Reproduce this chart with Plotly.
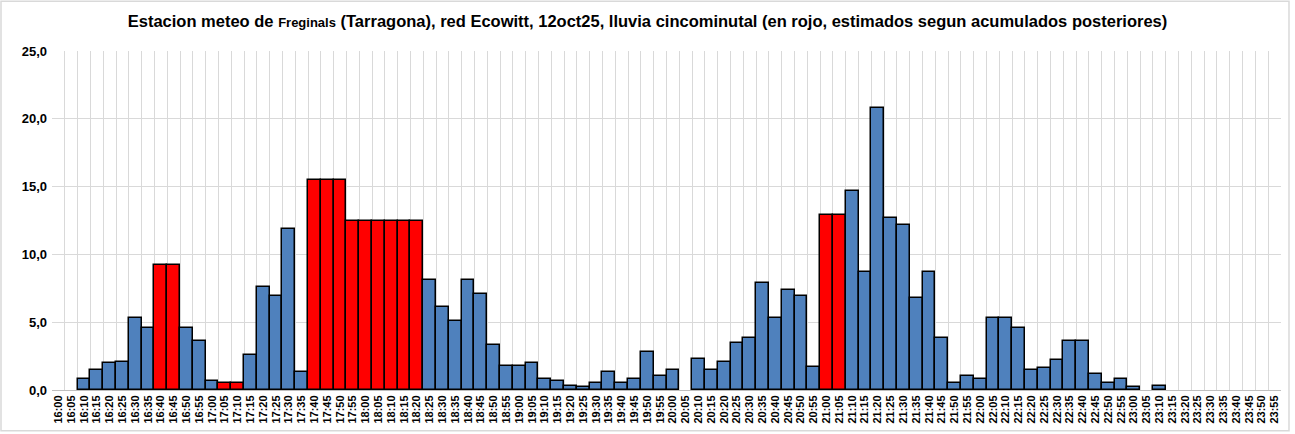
import plotly.graph_objects as go

times = [f"{h}:{m:02d}" for h in range(16, 24) for m in range(0, 60, 5)]

rain = [
    0, 0, 0.8, 1.5, 2.0, 2.1, 5.3, 4.6, 9.25, 9.25, 4.6, 3.6,          # 16:00-16:55
    0.7, 0.5, 0.5, 2.6, 7.6, 6.9, 11.9, 1.3, 15.5, 15.5, 15.5, 12.5,   # 17:00-17:55
    12.5, 12.5, 12.5, 12.5, 12.5, 8.1, 6.1, 5.1, 8.1, 7.1, 3.3, 1.8,   # 18:00-18:55
    1.8, 2.0, 0.8, 0.7, 0.3, 0.2, 0.5, 1.3, 0.5, 0.8, 2.8, 1.0,        # 19:00-19:55
    1.5, 0, 2.3, 1.5, 2.1, 3.5, 3.8, 7.9, 5.3, 7.4, 6.9, 1.7,          # 20:00-20:55
    12.9, 12.9, 14.7, 8.7, 20.8, 12.7, 12.2, 6.8, 8.7, 3.8, 0.5, 1.0,  # 21:00-21:55
    0.8, 5.3, 5.3, 4.6, 1.5, 1.6, 2.2, 3.6, 3.6, 1.2, 0.5, 0.8,        # 22:00-22:55
    0.2, 0, 0.3, 0, 0, 0, 0, 0, 0, 0, 0, 0,                            # 23:00-23:55
]

estimated = ["16:40", "16:45", "17:05", "17:10", "17:40", "17:45", "17:50", "17:55",
             "18:00", "18:05", "18:10", "18:15", "18:20", "21:00", "21:05"]

colors = ["#FF0000" if t in estimated else "#4F81BD" for t in times]
# zero-rain intervals draw no bar outline
yvals = [v if v > 0 else None for v in rain]

fig = go.Figure(go.Bar(
    x=times, y=yvals,
    marker=dict(color=colors, line=dict(color="black", width=1.5)),
))

title = ("Estacion meteo de <span style='font-size:13px'>Freginals</span> (Tarragona), red Ecowitt, "
         "12oct25, lluvia cincominutal (en rojo, estimados segun acumulados posteriores)")

fig.update_layout(
    width=1295, height=434,
    margin=dict(l=52, r=14, t=51, b=44),
    paper_bgcolor="white", plot_bgcolor="white",
    separators=",.",
    bargap=0,
    showlegend=False,
    title=dict(text="<b>" + title + "</b>", x=0.5, xanchor="center", y=0.95, yanchor="middle",
               font=dict(family="Liberation Sans Narrow, Arial Narrow, sans-serif", size=16.5, color="black")),
    font=dict(family="Liberation Sans, Arial, sans-serif", color="black"),
    xaxis=dict(type="category", tickson="boundaries", tickangle=-90, automargin=False,
               range=[-0.5, len(times) - 0.5],
               tickmode="array", tickvals=times, ticktext=times,
               tickfont=dict(size=11, family="Liberation Sans Narrow, Arial, sans-serif", weight="bold"),
               showgrid=True, gridcolor="#D9D9D9", gridwidth=1,
               showline=True, linecolor="#BFBFBF", linewidth=1, ticks=""),
    yaxis=dict(range=[0, 25], dtick=5, tickformat=".1f", automargin=False,
               tickfont=dict(size=13, weight="bold"), ticklabelstandoff=4,
               showgrid=True, gridcolor="#D9D9D9", gridwidth=1,
               zeroline=False, showline=False, ticks=""),
    shapes=[dict(type="rect", xref="paper", yref="paper", x0=-0.0415, x1=1.0065, y0=-0.12, y1=1.147,
                 line=dict(color="#D9D9D9", width=1.5), fillcolor="rgba(0,0,0,0)", layer="below")],
)

fig.write_html("out.html", config={"displayModeBar": False},
               post_script="document.body.style.margin='0';")
